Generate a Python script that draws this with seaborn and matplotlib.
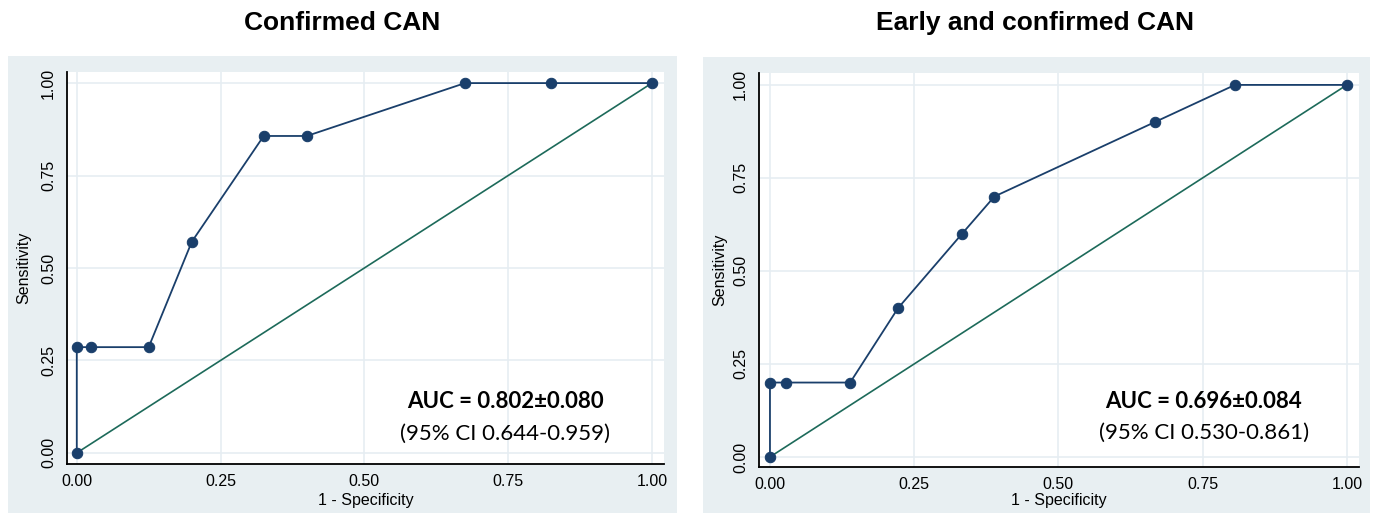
import matplotlib
matplotlib.use("Agg")
import pandas as pd
import matplotlib.pyplot as plt
import seaborn as sns
from matplotlib.patches import Rectangle

# ROC points
fpr_confirmed = [0, 0, 0.025, 0.125, 0.2, 0.325, 0.4, 0.675, 0.825, 1]
tpr_confirmed = [0, 0.286, 0.286, 0.286, 0.571, 0.857, 0.857, 1, 1, 1]
fpr_early = [0, 0, 0.028, 0.139, 0.222, 0.333, 0.389, 0.667, 0.806, 1]
tpr_early = [0, 0.2, 0.2, 0.2, 0.4, 0.6, 0.7, 0.9, 1, 1]

titles = ["Confirmed CAN", "Early and confirmed CAN"]
auc_lines = ["AUC = 0.802±0.080", "AUC = 0.696±0.084"]
ci_lines = ["(95% CI 0.644-0.959)", "(95% CI 0.530-0.861)"]
ref_line = [0, 1]
ticks = [0, 0.25, 0.5, 0.75, 1]
tick_labels = ["0.00", "0.25", "0.50", "0.75", "1.00"]

navy = "#1a3f6b"
green = "#1d6a5a"
panel_bg = "#e8eff2"
grid_col = "#e6edf2"

sns.set_style("white")
plt.rcParams['font.family'] = ['Liberation Sans', 'DejaVu Sans']
plt.rcParams['text.color'] = 'black'
plt.rcParams['axes.labelcolor'] = 'black'
plt.rcParams['xtick.color'] = 'black'
plt.rcParams['ytick.color'] = 'black'

fig = plt.figure(figsize=(13.73, 5.13), dpi=100)
W, H = 1373, 513

# grey panel boxes behind each graph
fig.patches.append(Rectangle((8 / W, 0), 669 / W, (H - 56) / H, transform=fig.transFigure,
                             facecolor=panel_bg, edgecolor='none', zorder=-5))
fig.patches.append(Rectangle((703 / W, 0), 667 / W, (H - 57) / H, transform=fig.transFigure,
                             facecolor=panel_bg, edgecolor='none', zorder=-5))

# axes boxes in pixels: left, top, right, bottom
boxes = [(67, 72, 664, 464), (759, 73, 1359, 467)]
xlims = [(-0.017, 1.021), (-0.019, 1.021)]
ylims = [(-0.030, 1.030), (-0.027, 1.032)]
title_x = [342, 1035]
text_pos = [(0.745, 0.138, 0.052), (0.752, 0.148, 0.066)]
ylab_x = [-0.072, -0.065]
xlab_y = [-0.092, -0.084]

data = [
    pd.DataFrame({'fpr': fpr_confirmed, 'tpr': tpr_confirmed}),
    pd.DataFrame({'fpr': fpr_early, 'tpr': tpr_early}),
]
ref = pd.DataFrame({'x': ref_line, 'y': ref_line})

for i, df in enumerate(data):
    l, t, r, b = boxes[i]
    ax = fig.add_axes([l / W, 1 - b / H, (r - l) / W, (b - t) / H])
    ax.set_facecolor('white')

    sns.lineplot(data=ref, x='x', y='y', ax=ax, color=green, linewidth=1.2,
                 estimator=None, sort=False)
    sns.lineplot(data=df, x='fpr', y='tpr', ax=ax, color=navy, linewidth=1.3,
                 marker='o', markersize=7.5, markeredgecolor=navy,
                 estimator=None, sort=False)

    ax.set_xlim(*xlims[i])
    ax.set_ylim(*ylims[i])
    ax.set_xticks(ticks)
    ax.set_xticklabels(tick_labels, fontsize=11.5)
    ax.set_yticks(ticks)
    ax.set_yticklabels(tick_labels, fontsize=11.5, rotation=90, va='center')
    ax.grid(True, color=grid_col, linewidth=1.2)
    ax.set_axisbelow(True)
    ax.tick_params(axis='both', direction='out', length=5, width=1.1, color='black', pad=3)
    ax.tick_params(axis='x', pad=2)
    for side in ['top', 'right']:
        ax.spines[side].set_visible(False)
    for side in ['left', 'bottom']:
        ax.spines[side].set_color('black')
        ax.spines[side].set_linewidth(1.3)

    ax.set_xlabel('1 - Specificity', fontsize=11.5)
    ax.set_ylabel('Sensitivity', fontsize=11.5)
    ax.xaxis.set_label_coords(0.5, xlab_y[i])
    ax.xaxis.label.set_va('center')
    ax.yaxis.set_label_coords(ylab_x[i], 0.5)
    ax.yaxis.label.set_va('center')

    tx, ty1, ty2 = text_pos[i]
    ax.text(tx, ty1, auc_lines[i], ha='center', va='center', fontsize=16,
            fontweight='bold', family=['Lato', 'DejaVu Sans'])
    ax.text(tx, ty2, ci_lines[i], ha='center', va='center', fontsize=16,
            family=['Lato', 'DejaVu Sans'])

    fig.text(title_x[i] / W, 1 - 23 / H, titles[i], ha='center', va='center',
             fontsize=19, fontweight='bold')

fig.savefig('out.png', dpi=100)
